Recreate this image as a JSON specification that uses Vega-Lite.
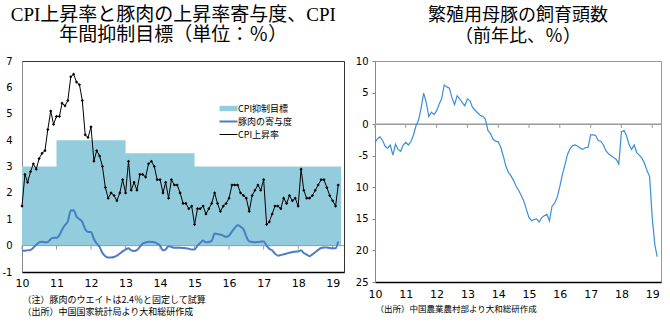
{
  "$schema": "https://vega.github.io/schema/vega-lite/v6.json",
  "padding": {"left": 1, "top": 5, "right": 4, "bottom": 2},
  "bounds": "flush",
  "spacing": 31,
  "config": {
    "font": "Noto Sans CJK JP",
    "axis": {"grid": false, "labelFont": "DejaVu Sans", "labelFontSize": 10, "labelColor": "#000", "domainColor": "#888", "tickColor": "#888", "labelOverlap": false, "labelFlush": false},
    "title": {"color": "#000", "fontWeight": "normal"}
  },
  "datasets": {
    "target": [
      {"date": "2010-01-01", "value": 3}, {"date": "2011-01-01", "value": 4}, {"date": "2012-01-01", "value": 4},
      {"date": "2013-01-01", "value": 3.5}, {"date": "2014-01-01", "value": 3.5}, {"date": "2015-01-01", "value": 3},
      {"date": "2016-01-01", "value": 3}, {"date": "2017-01-01", "value": 3}, {"date": "2018-01-01", "value": 3},
      {"date": "2019-01-01", "value": 3}, {"date": "2019-04-01", "value": 3}
    ],
    "years": [
      {"date": "2010-01-01"}, {"date": "2011-01-01"}, {"date": "2012-01-01"}, {"date": "2013-01-01"}, {"date": "2014-01-01"},
      {"date": "2015-01-01"}, {"date": "2016-01-01"}, {"date": "2017-01-01"}, {"date": "2018-01-01"}, {"date": "2019-01-01"}
    ],
    "cpi": [
      {"date":"2010-01-01","value":1.5},{"date":"2010-02-01","value":2.7},{"date":"2010-03-01","value":2.4},{"date":"2010-04-01","value":2.8},{"date":"2010-05-01","value":3.1},{"date":"2010-06-01","value":2.9},{"date":"2010-07-01","value":3.3},{"date":"2010-08-01","value":3.5},{"date":"2010-09-01","value":3.6},{"date":"2010-10-01","value":4.4},{"date":"2010-11-01","value":5.1},{"date":"2010-12-01","value":4.6},
      {"date":"2011-01-01","value":4.9},{"date":"2011-02-01","value":4.9},{"date":"2011-03-01","value":5.4},{"date":"2011-04-01","value":5.3},{"date":"2011-05-01","value":5.5},{"date":"2011-06-01","value":6.4},{"date":"2011-07-01","value":6.5},{"date":"2011-08-01","value":6.2},{"date":"2011-09-01","value":6.1},{"date":"2011-10-01","value":5.5},{"date":"2011-11-01","value":4.2},{"date":"2011-12-01","value":4.1},
      {"date":"2012-01-01","value":4.5},{"date":"2012-02-01","value":3.2},{"date":"2012-03-01","value":3.6},{"date":"2012-04-01","value":3.4},{"date":"2012-05-01","value":3.0},{"date":"2012-06-01","value":2.2},{"date":"2012-07-01","value":1.8},{"date":"2012-08-01","value":2.0},{"date":"2012-09-01","value":1.9},{"date":"2012-10-01","value":1.7},{"date":"2012-11-01","value":2.0},{"date":"2012-12-01","value":2.5},
      {"date":"2013-01-01","value":2.0},{"date":"2013-02-01","value":3.2},{"date":"2013-03-01","value":2.1},{"date":"2013-04-01","value":2.4},{"date":"2013-05-01","value":2.1},{"date":"2013-06-01","value":2.7},{"date":"2013-07-01","value":2.7},{"date":"2013-08-01","value":2.6},{"date":"2013-09-01","value":3.1},{"date":"2013-10-01","value":3.2},{"date":"2013-11-01","value":3.0},{"date":"2013-12-01","value":2.5},
      {"date":"2014-01-01","value":2.5},{"date":"2014-02-01","value":2.0},{"date":"2014-03-01","value":2.4},{"date":"2014-04-01","value":1.8},{"date":"2014-05-01","value":2.5},{"date":"2014-06-01","value":2.3},{"date":"2014-07-01","value":2.3},{"date":"2014-08-01","value":2.0},{"date":"2014-09-01","value":1.6},{"date":"2014-10-01","value":1.6},{"date":"2014-11-01","value":1.4},{"date":"2014-12-01","value":1.5},
      {"date":"2015-01-01","value":0.8},{"date":"2015-02-01","value":1.4},{"date":"2015-03-01","value":1.4},{"date":"2015-04-01","value":1.5},{"date":"2015-05-01","value":1.2},{"date":"2015-06-01","value":1.4},{"date":"2015-07-01","value":1.6},{"date":"2015-08-01","value":2.0},{"date":"2015-09-01","value":1.6},{"date":"2015-10-01","value":1.3},{"date":"2015-11-01","value":1.5},{"date":"2015-12-01","value":1.6},
      {"date":"2016-01-01","value":1.8},{"date":"2016-02-01","value":2.3},{"date":"2016-03-01","value":2.3},{"date":"2016-04-01","value":2.3},{"date":"2016-05-01","value":2.0},{"date":"2016-06-01","value":1.9},{"date":"2016-07-01","value":1.8},{"date":"2016-08-01","value":1.3},{"date":"2016-09-01","value":1.9},{"date":"2016-10-01","value":2.1},{"date":"2016-11-01","value":2.3},{"date":"2016-12-01","value":2.1},
      {"date":"2017-01-01","value":2.5},{"date":"2017-02-01","value":0.8},{"date":"2017-03-01","value":0.9},{"date":"2017-04-01","value":1.2},{"date":"2017-05-01","value":1.5},{"date":"2017-06-01","value":1.5},{"date":"2017-07-01","value":1.4},{"date":"2017-08-01","value":1.8},{"date":"2017-09-01","value":1.6},{"date":"2017-10-01","value":1.9},{"date":"2017-11-01","value":1.7},{"date":"2017-12-01","value":1.8},
      {"date":"2018-01-01","value":1.5},{"date":"2018-02-01","value":2.9},{"date":"2018-03-01","value":2.1},{"date":"2018-04-01","value":1.8},{"date":"2018-05-01","value":1.8},{"date":"2018-06-01","value":1.9},{"date":"2018-07-01","value":2.1},{"date":"2018-08-01","value":2.3},{"date":"2018-09-01","value":2.5},{"date":"2018-10-01","value":2.5},{"date":"2018-11-01","value":2.2},{"date":"2018-12-01","value":1.9},
      {"date":"2019-01-01","value":1.7},{"date":"2019-02-01","value":1.5},{"date":"2019-03-01","value":2.3}
    ],
    "pork": [
      {"date":"2010-01-01","value":-0.20},{"date":"2010-02-01","value":-0.19},{"date":"2010-03-01","value":-0.18},{"date":"2010-04-01","value":-0.16},{"date":"2010-05-01","value":-0.08},{"date":"2010-06-01","value":0.03},{"date":"2010-07-01","value":0.12},{"date":"2010-08-01","value":0.15},{"date":"2010-09-01","value":0.13},{"date":"2010-10-01","value":0.14},{"date":"2010-11-01","value":0.25},{"date":"2010-12-01","value":0.30},
      {"date":"2011-01-01","value":0.29},{"date":"2011-02-01","value":0.40},{"date":"2011-03-01","value":0.60},{"date":"2011-04-01","value":0.78},{"date":"2011-05-01","value":0.92},{"date":"2011-06-01","value":1.33},{"date":"2011-07-01","value":1.34},{"date":"2011-08-01","value":1.10},{"date":"2011-09-01","value":1.00},{"date":"2011-10-01","value":0.90},{"date":"2011-11-01","value":0.62},{"date":"2011-12-01","value":0.52},
      {"date":"2012-01-01","value":0.52},{"date":"2012-02-01","value":0.25},{"date":"2012-03-01","value":0.08},{"date":"2012-04-01","value":-0.05},{"date":"2012-05-01","value":-0.28},{"date":"2012-06-01","value":-0.40},{"date":"2012-07-01","value":-0.45},{"date":"2012-08-01","value":-0.45},{"date":"2012-09-01","value":-0.43},{"date":"2012-10-01","value":-0.38},{"date":"2012-11-01","value":-0.30},{"date":"2012-12-01","value":-0.22},
      {"date":"2013-01-01","value":-0.15},{"date":"2013-02-01","value":-0.10},{"date":"2013-03-01","value":-0.18},{"date":"2013-04-01","value":-0.20},{"date":"2013-05-01","value":-0.17},{"date":"2013-06-01","value":-0.05},{"date":"2013-07-01","value":0.08},{"date":"2013-08-01","value":0.12},{"date":"2013-09-01","value":0.15},{"date":"2013-10-01","value":0.14},{"date":"2013-11-01","value":0.13},{"date":"2013-12-01","value":0.08},
      {"date":"2014-01-01","value":0.00},{"date":"2014-02-01","value":-0.18},{"date":"2014-03-01","value":-0.14},{"date":"2014-04-01","value":-0.02},{"date":"2014-05-01","value":-0.05},{"date":"2014-06-01","value":-0.08},{"date":"2014-07-01","value":-0.08},{"date":"2014-08-01","value":-0.08},{"date":"2014-09-01","value":-0.09},{"date":"2014-10-01","value":-0.10},{"date":"2014-11-01","value":-0.12},{"date":"2014-12-01","value":-0.15},
      {"date":"2015-01-01","value":-0.15},{"date":"2015-02-01","value":0.00},{"date":"2015-03-01","value":0.10},{"date":"2015-04-01","value":0.19},{"date":"2015-05-01","value":0.13},{"date":"2015-06-01","value":0.14},{"date":"2015-07-01","value":0.18},{"date":"2015-08-01","value":0.46},{"date":"2015-09-01","value":0.44},{"date":"2015-10-01","value":0.42},{"date":"2015-11-01","value":0.38},{"date":"2015-12-01","value":0.33},
      {"date":"2016-01-01","value":0.38},{"date":"2016-02-01","value":0.54},{"date":"2016-03-01","value":0.67},{"date":"2016-04-01","value":0.77},{"date":"2016-05-01","value":0.72},{"date":"2016-06-01","value":0.62},{"date":"2016-07-01","value":0.35},{"date":"2016-08-01","value":0.16},{"date":"2016-09-01","value":0.14},{"date":"2016-10-01","value":0.13},{"date":"2016-11-01","value":0.14},{"date":"2016-12-01","value":0.15},
      {"date":"2017-01-01","value":0.16},{"date":"2017-02-01","value":0.00},{"date":"2017-03-01","value":-0.12},{"date":"2017-04-01","value":-0.18},{"date":"2017-05-01","value":-0.30},{"date":"2017-06-01","value":-0.38},{"date":"2017-07-01","value":-0.36},{"date":"2017-08-01","value":-0.33},{"date":"2017-09-01","value":-0.30},{"date":"2017-10-01","value":-0.27},{"date":"2017-11-01","value":-0.24},{"date":"2017-12-01","value":-0.23},
      {"date":"2018-01-01","value":-0.22},{"date":"2018-02-01","value":-0.18},{"date":"2018-03-01","value":-0.28},{"date":"2018-04-01","value":-0.34},{"date":"2018-05-01","value":-0.40},{"date":"2018-06-01","value":-0.33},{"date":"2018-07-01","value":-0.25},{"date":"2018-08-01","value":-0.16},{"date":"2018-09-01","value":-0.09},{"date":"2018-10-01","value":-0.07},{"date":"2018-11-01","value":-0.07},{"date":"2018-12-01","value":-0.09},
      {"date":"2019-01-01","value":-0.10},{"date":"2019-02-01","value":-0.10},{"date":"2019-03-01","value":0.16}
    ],
    "sow": [
      {"date":"2010-01-01","value":-2.9},{"date":"2010-02-01","value":-2.3},{"date":"2010-03-01","value":-2.0},{"date":"2010-04-01","value":-2.6},{"date":"2010-05-01","value":-3.5},{"date":"2010-06-01","value":-3.8},{"date":"2010-07-01","value":-3.3},{"date":"2010-08-01","value":-4.9},{"date":"2010-09-01","value":-3.2},{"date":"2010-10-01","value":-4.0},{"date":"2010-11-01","value":-4.3},{"date":"2010-12-01","value":-3.3},
      {"date":"2011-01-01","value":-2.9},{"date":"2011-02-01","value":-3.3},{"date":"2011-03-01","value":-2.8},{"date":"2011-04-01","value":-1.8},{"date":"2011-05-01","value":-0.3},{"date":"2011-06-01","value":0.6},{"date":"2011-07-01","value":2.5},{"date":"2011-08-01","value":4.9},{"date":"2011-09-01","value":3.4},{"date":"2011-10-01","value":1.2},{"date":"2011-11-01","value":1.9},{"date":"2011-12-01","value":1.5},
      {"date":"2012-01-01","value":2.1},{"date":"2012-02-01","value":3.2},{"date":"2012-03-01","value":4.0},{"date":"2012-04-01","value":6.2},{"date":"2012-05-01","value":5.9},{"date":"2012-06-01","value":5.7},{"date":"2012-07-01","value":4.2},{"date":"2012-08-01","value":3.1},{"date":"2012-09-01","value":4.5},{"date":"2012-10-01","value":4.0},{"date":"2012-11-01","value":3.4},{"date":"2012-12-01","value":2.9},
      {"date":"2013-01-01","value":4.0},{"date":"2013-02-01","value":3.7},{"date":"2013-03-01","value":2.7},{"date":"2013-04-01","value":2.2},{"date":"2013-05-01","value":1.8},{"date":"2013-06-01","value":1.4},{"date":"2013-07-01","value":1.2},{"date":"2013-08-01","value":0.8},{"date":"2013-09-01","value":-1.0},{"date":"2013-10-01","value":-1.5},{"date":"2013-11-01","value":-2.4},{"date":"2013-12-01","value":-2.7},
      {"date":"2014-01-01","value":-2.8},{"date":"2014-02-01","value":-3.7},{"date":"2014-03-01","value":-5.0},{"date":"2014-04-01","value":-6.6},{"date":"2014-05-01","value":-7.6},{"date":"2014-06-01","value":-8.2},{"date":"2014-07-01","value":-8.9},{"date":"2014-08-01","value":-9.8},{"date":"2014-09-01","value":-10.5},{"date":"2014-10-01","value":-11.3},{"date":"2014-11-01","value":-12.2},{"date":"2014-12-01","value":-13.5},
      {"date":"2015-01-01","value":-14.8},{"date":"2015-02-01","value":-15.3},{"date":"2015-03-01","value":-15.1},{"date":"2015-04-01","value":-15.0},{"date":"2015-05-01","value":-15.5},{"date":"2015-06-01","value":-14.8},{"date":"2015-07-01","value":-14.5},{"date":"2015-08-01","value":-14.3},{"date":"2015-09-01","value":-15.3},{"date":"2015-10-01","value":-13.0},{"date":"2015-11-01","value":-12.5},{"date":"2015-12-01","value":-11.6},
      {"date":"2016-01-01","value":-9.9},{"date":"2016-02-01","value":-8.0},{"date":"2016-03-01","value":-6.5},{"date":"2016-04-01","value":-4.8},{"date":"2016-05-01","value":-3.9},{"date":"2016-06-01","value":-3.4},{"date":"2016-07-01","value":-3.3},{"date":"2016-08-01","value":-3.5},{"date":"2016-09-01","value":-3.8},{"date":"2016-10-01","value":-4.0},{"date":"2016-11-01","value":-3.7},{"date":"2016-12-01","value":-3.7},
      {"date":"2017-01-01","value":-1.7},{"date":"2017-02-01","value":-1.7},{"date":"2017-03-01","value":-1.8},{"date":"2017-04-01","value":-2.6},{"date":"2017-05-01","value":-2.7},{"date":"2017-06-01","value":-3.3},{"date":"2017-07-01","value":-4.2},{"date":"2017-08-01","value":-4.7},{"date":"2017-09-01","value":-5.0},{"date":"2017-10-01","value":-5.3},{"date":"2017-11-01","value":-5.6},{"date":"2017-12-01","value":-6.3},
      {"date":"2018-01-01","value":-1.2},{"date":"2018-02-01","value":-1.0},{"date":"2018-03-01","value":-1.8},{"date":"2018-04-01","value":-3.2},{"date":"2018-05-01","value":-4.0},{"date":"2018-06-01","value":-3.3},{"date":"2018-07-01","value":-4.5},{"date":"2018-08-01","value":-4.9},{"date":"2018-09-01","value":-5.4},{"date":"2018-10-01","value":-6.2},{"date":"2018-11-01","value":-7.4},{"date":"2018-12-01","value":-8.3},
      {"date":"2019-01-01","value":-14.8},{"date":"2019-02-01","value":-19.1},{"date":"2019-03-01","value":-21.0}
    ]
  },
  "hconcat": [
    {
      "width": 322,
      "height": 211,
      "title": {
        "text": ["CPI上昇率と豚肉の上昇率寄与度、CPI", "年間抑制目標（単位：％）"],
        "font": "Liberation Serif, Noto Sans CJK JP",
        "fontSize": 19,
        "lineHeight": 20,
        "anchor": "middle",
        "frame": "bounds",
        "offset": 11
      },
      "view": {"stroke": "#333"},
      "layer": [
        {
          "data": {"name": "target"},
          "mark": {"type": "area", "interpolate": "step-after"},
          "encoding": {
            "x": {
              "field": "date", "type": "temporal",
              "scale": {"type": "utc", "domain": ["2010-01-01", "2019-05-01"]},
              "axis": {
                "format": "%y", "tickCount": {"interval": "year", "step": 1},
                "ticks": false, "labelPadding": 5, "labelFontSize": 11, "labelFlush": false,
                "domainColor": "#000", "domainWidth": 1.5,
                "title": ["（注）豚肉のウエイトは2.4％と固定して試算", "（出所）中国国家統計局より大和総研作成"],
                "titleFont": "Noto Sans CJK JP", "titleFontSize": 9, "titleFontWeight": "normal",
                "titleAnchor": "start", "titleAlign": "left", "titlePadding": 7, "titleLineHeight": 12
              }
            },
            "y": {
              "field": "value", "type": "quantitative",
              "scale": {"domain": [-1, 7], "nice": false},
              "axis": {"values": [-1, 0, 1, 2, 3, 4, 5, 6, 7], "tickCount": 20, "labelOverlap": false, "labelExpr": "'' + datum.value", "ticks": false, "labelPadding": 10, "title": null}
            },
            "y2": {"datum": 0},
            "color": {
              "datum": "CPI抑制目標",
              "scale": {"domain": ["CPI抑制目標", "豚肉の寄与度", "CPI上昇率"], "range": ["#93CDDD", "#4A7DC4", "#000000"]},
              "legend": {
                "title": null, "orient": "none", "legendX": 202, "legendY": 43,
                "symbolType": "M-1.5,0H1.5", "symbolSize": 144, "symbolStrokeWidth": 2,
                "labelFont": "Noto Sans CJK JP", "labelFontSize": 9, "labelColor": "#000",
                "rowPadding": 3, "labelOffset": 5,
                "encode": {"symbols": {"update": {
                  "shape": {"signal": "datum.value === 'CPI抑制目標' ? 'M-1.5,-0.45H1.5V0.45H-1.5Z' : 'M-1.5,0H1.5'"},
                  "fill": {"signal": "datum.value === 'CPI抑制目標' ? '#93CDDD' : 'transparent'"},
                  "strokeWidth": {"signal": "datum.value === 'CPI抑制目標' ? 0 : datum.value === '豚肉の寄与度' ? 2 : 1"}
                }}}
              }
            }
          }
        },
        {
          "data": {"values": [{}]},
          "mark": {"type": "rule", "color": "#9a9a9a", "strokeWidth": 1},
          "encoding": {"y": {"datum": 0}}
        },
        {
          "data": {"name": "years"},
          "mark": {"type": "rule", "color": "#9a9a9a", "strokeWidth": 1},
          "encoding": {"x": {"field": "date", "type": "temporal"}, "y": {"datum": 0}, "y2": {"datum": -0.15}}
        },
        {
          "data": {"name": "pork"},
          "mark": {"type": "line", "interpolate": "monotone", "strokeWidth": 2},
          "encoding": {
            "x": {"field": "date", "type": "temporal"},
            "y": {"field": "value", "type": "quantitative"},
            "color": {"datum": "豚肉の寄与度"}
          }
        },
        {
          "data": {"name": "cpi"},
          "mark": {"type": "line", "strokeWidth": 1, "point": {"shape": "diamond", "size": 10, "filled": true}},
          "encoding": {
            "x": {"field": "date", "type": "temporal"},
            "y": {"field": "value", "type": "quantitative"},
            "color": {"datum": "CPI上昇率"}
          }
        }
      ]
    },
    {
      "width": 286,
      "height": 221,
      "title": {
        "text": ["繁殖用母豚の飼育頭数", "（前年比、％）"],
        "font": "Liberation Sans, Noto Sans CJK JP",
        "fontSize": 18,
        "lineHeight": 21,
        "anchor": "middle",
        "frame": "group",
        "offset": 10
      },
      "view": {"stroke": "#999"},
      "layer": [
        {
          "data": {"values": [{}]},
          "mark": {"type": "rule", "color": "#9a9a9a", "strokeWidth": 1.5},
          "encoding": {"y": {"datum": 0}}
        },
        {
          "data": {"name": "years"},
          "mark": {"type": "rule", "color": "#9a9a9a", "strokeWidth": 1},
          "encoding": {"x": {"field": "date", "type": "temporal"}, "y": {"datum": 0}, "y2": {"datum": -0.6}}
        },
        {
          "data": {"name": "sow"},
          "mark": {"type": "line", "color": "#3A8ED8", "strokeWidth": 1.2},
          "encoding": {
            "x": {
              "field": "date", "type": "temporal",
              "scale": {"type": "utc", "domain": ["2010-01-01", "2019-04-15"]},
              "axis": {
                "format": "%y", "tickCount": {"interval": "year", "step": 1},
                "ticks": false, "labelPadding": 6, "labelFontSize": 11, "labelFlush": false,
                "domainColor": "#000", "domainWidth": 1.5,
                "title": "（出所）中国農業農村部より大和総研作成",
                "titleFont": "Noto Sans CJK JP", "titleFontSize": 8.5, "titleFontWeight": "normal",
                "titleAnchor": "start", "titleAlign": "left", "titlePadding": 5
              }
            },
            "y": {
              "field": "value", "type": "quantitative",
              "scale": {"domain": [-25, 10], "nice": false},
              "axis": {
                "values": [-25, -20, -15, -10, -5, 0, 5, 10],
                "tickCount": 20,
                "labelOverlap": false,
                "labelExpr": "datum.value <= -10 ? '' + (-datum.value) : '' + datum.value",
                "tickSize": 3, "labelPadding": 4, "title": null
              }
            }
          }
        }
      ]
    }
  ]
}
